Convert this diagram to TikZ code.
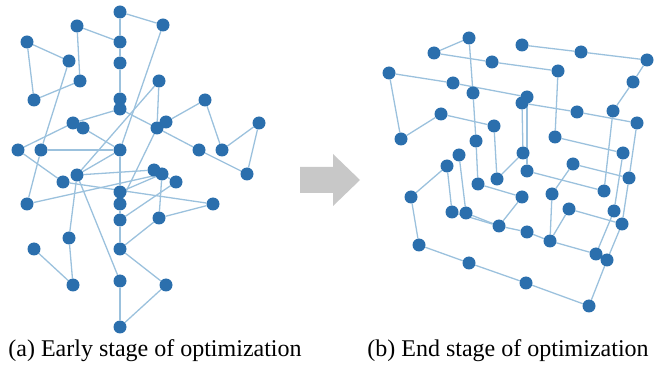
\documentclass[tikz,border=0pt]{standalone}
\usepackage{fontspec}
\setmainfont{Liberation Serif}
\usetikzlibrary{backgrounds}
\definecolor{nodeblue}{RGB}{43,111,173}
\definecolor{edgeblue}{RGB}{155,193,221}
\definecolor{arrowgray}{RGB}{200,200,200}
\begin{document}
\begin{tikzpicture}[x=1pt,y=-1pt,
  dot/.style={circle,fill=nodeblue,inner sep=0pt,minimum size=13pt},
  link/.style={draw=edgeblue,line width=1.3pt},
  caption/.style={anchor=base,inner sep=0pt,font=\fontsize{24}{28}\selectfont}]
\useasboundingbox (0,0) rectangle (657,366);
% ---------- graph (a) ----------
\foreach \n/\x/\y in {a1/120/12,a2/163/25,a3/77/26,a4/27/42,a5/120/42,a6/69/61,a7/120/63,
  a8/80/81,a9/159/81,a10/34/100,a11/120/99,a12/120/109,a13/205/100,a14/73/123,a15/83/128,
  a16/166/122,a17/157/128,a18/259/123,a19/18/150,a20/41/150,a21/120/150,a22/199/150,
  a23/222/150,a24/154/170,a25/162/174,a26/77/175,a27/176/182,a28/247/174,a29/63/182,
  a30/27/204,a31/120/192,a32/120/204,a33/213/204,a34/159/218,a35/120/220,a36/69/238,
  a37/34/249,a38/120/249,a39/73/285,a40/120/281,a41/166/285,a42/120/327}
  \node[dot] (\n) at (\x,\y) {};
% ---------- graph (b) ----------
\foreach \n/\x/\y in {b1/469/38,b2/434/53,b3/522/45,b4/581/52,b5/647/60,b6/492/62,b7/389/73,
  b8/558/71,b9/633/82,b10/453/83,b11/473/93,b12/527/97,b13/522/103,b14/441/114,b15/577/112,
  b16/613/111,b17/494/126,b18/637/123,b19/401/139,b20/476/141,b21/555/137,b22/523/153,
  b23/623/153,b24/459/155,b25/447/166,b26/573/164,b27/527/171,b28/629/178,b29/497/179,
  b30/478/184,b31/604/191,b32/552/194,b33/411/197,b34/522/197,b35/569/209,b36/614/211,
  b37/452/212,b38/466/213,b39/622/224,b40/499/226,b41/527/232,b42/550/241,b43/419/245,
  b44/596/254,b45/607/260,b46/469/263,b47/526/283,b48/589/306}
  \node[dot] (\n) at (\x,\y) {};
\begin{scope}[on background layer]
\foreach \u/\v in {a1/a2,a1/a5,a3/a5,a3/a8,a4/a6,a4/a10,a10/a8,a6/a20,a5/a7,a7/a11,
  a11/a12,a2/a21,a9/a17,a9/a26,a13/a16,a13/a23,a18/a23,a18/a28,a22/a28,a17/a22,
  a14/a19,a20/a21,a19/a29,a15/a21,a14/a12,a17/a32,a33/a29,a33/a34,a25/a34,a36/a26,
  a36/a39,a37/a39,a26/a40,a38/a41,a41/a42,a40/a42,a38/a34,a26/a21,a30/a20,a26/a24,
  a12/a17,a31/a25,a21/a31,a31/a32,a32/a35,a35/a38,a25/a30,a27/a24,a27/a35}
  \draw[link] (\u) -- (\v);
\foreach \u/\v in {b1/b2,b1/b11,b11/b20,b20/b30,b2/b6,b6/b8,b7/b10,b10/b12,b7/b19,
  b14/b19,b14/b17,b17/b29,b3/b4,b4/b5,b5/b9,b9/b16,b13/b15,b15/b18,b13/b22,b12/b27,
  b8/b21,b21/b23,b16/b31,b18/b28,b23/b36,b28/b39,b22/b29,b27/b31,b26/b32,b26/b28,
  b32/b42,b35/b39,b35/b42,b30/b34,b34/b40,b25/b33,b25/b37,b24/b38,b37/b40,b38/b40,
  b40/b41,b41/b42,b42/b44,b44/b36,b45/b39,b45/b48,b33/b43,b43/b46,b46/b47,b47/b48}
  \draw[link] (\u) -- (\v);
\end{scope}
% ---------- arrow ----------
\fill[arrowgray] (300,167) -- (333,167) -- (333,154) -- (360,180) -- (333,206)
  -- (333,193) -- (300,193) -- cycle;
% ---------- captions ----------
\node[caption] (capa) at (155,357) {(a) Early stage of optimization};
\node[caption] (capb) at (508,357) {(b) End stage of optimization};
\end{tikzpicture}
\end{document}
